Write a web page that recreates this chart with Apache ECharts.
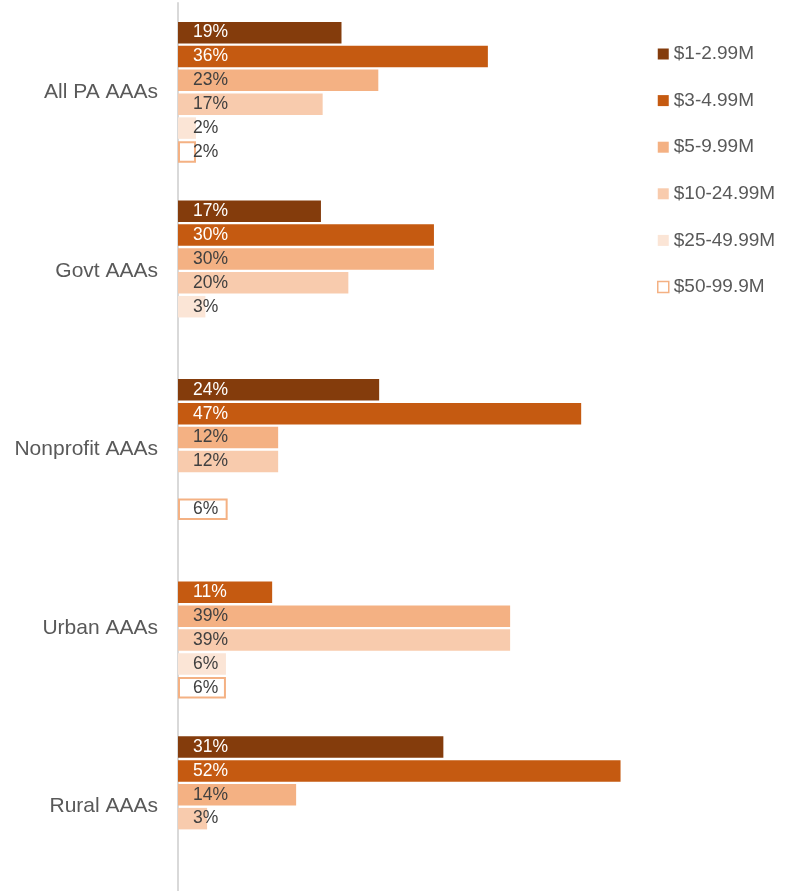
<!DOCTYPE html>
<html>
<head>
<meta charset="utf-8">
<script src="https://cdn.jsdelivr.net/npm/echarts@6/dist/echarts.min.js"></script>
<style>
html,body{margin:0;padding:0;background:#fff;overflow:hidden;width:790px;height:891px;}
#chart{width:790px;height:900px;}
</style>
</head>
<body>
<div id="chart"></div>
<script>
const categories = ['All PA AAAs', 'Govt AAAs', 'Nonprofit AAAs', 'Urban AAAs', 'Rural AAAs'];
const seriesNames = ['$1-2.99M', '$3-4.99M', '$5-9.99M', '$10-24.99M', '$25-49.99M', '$50-99.9M'];
const s1 = [19.1, 16.7, 23.5, null, 31.0];
const s2 = [36.2, 29.9, 47.1, 11.0, 51.7];
const s3 = [23.4, 29.9, 11.7, 38.8, 13.8];
const s4 = [16.9, 19.9, 11.7, 38.8, 3.4];
const s5 = [2.1, 3.2, null, 5.6, null];
const s6 = [2.1, null, 5.8, 5.6, null];

const values = [s1, s2, s3, s4, s5, s6];
const fills = ['#843C0C', '#C55A11', '#F4B183', '#F8CBAD', '#FBE5D6', '#FFFFFF'];
const borders = [null, null, null, null, null, '#F4B183'];
const labelColors = ['#FFFFFF', '#FFFFFF', '#404040', '#404040', '#404040', '#404040'];
const FONT = 'Liberation Sans, Arial, sans-serif';

const chart = echarts.init(document.getElementById('chart'), null, {renderer: 'canvas'});

const series = values.map((arr, i) => ({
  name: seriesNames[i],
  type: 'bar',
  data: arr.map(v => v === null ? '-' : v),
  barWidth: 21.5,
  barGap: '11%',
  itemStyle: {
    color: fills[i],
    borderColor: borders[i] || fills[i],
    borderWidth: borders[i] ? 2 : 0
  },
  label: {
    show: true,
    position: 'insideLeft',
    distance: 15,
    color: labelColors[i],
    fontSize: 17.5,
    fontFamily: FONT,
    padding: [3, 0, 0, 0],
    formatter: p => Math.round(p.value) + '%'
  },
  emphasis: {disabled: true}
}));

chart.setOption({
  animation: false,
  backgroundColor: '#fff',
  grid: {left: 178, top: 3, width: 513.6, height: 893, containLabel: false},
  xAxis: {type: 'value', min: 0, max: 60, show: false},
  yAxis: {
    type: 'category',
    data: categories,
    inverse: true,
    axisLine: {show: true, lineStyle: {color: '#D9D9D9', width: 2}},
    axisTick: {show: false},
    axisLabel: {color: '#595959', fontSize: 21, fontFamily: FONT, margin: 20, padding: [4, 0, 0, 0]}
  },
  legend: {
    orient: 'vertical',
    left: 657,
    top: 44.5,
    padding: 0,
    itemWidth: 11,
    itemHeight: 11,
    itemGap: 27.6,
    icon: 'rect',
    textStyle: {color: '#595959', fontSize: 19, fontFamily: FONT},
    data: seriesNames.map((n, i) => ({
      name: n,
      itemStyle: {color: fills[i], borderColor: borders[i] || fills[i], borderWidth: borders[i] ? 1.5 : 0}
    }))
  },
  series: series
});
</script>
</body>
</html>
